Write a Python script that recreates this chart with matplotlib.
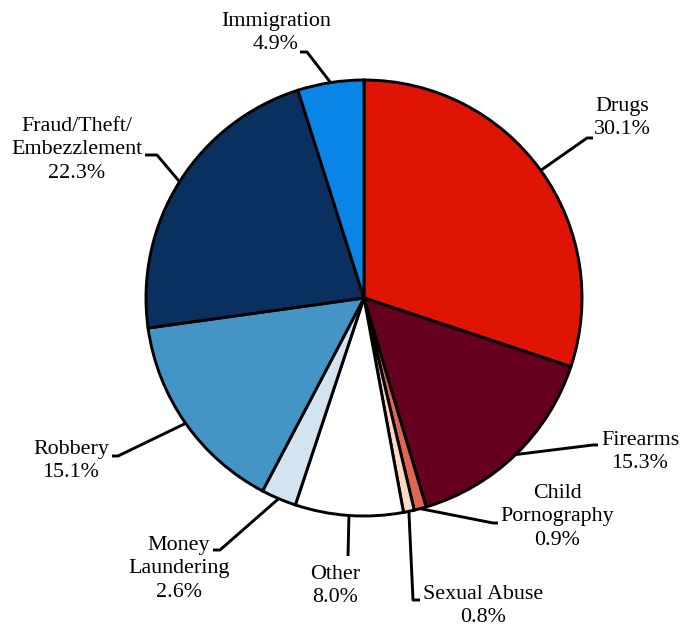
import numpy as np
import matplotlib.pyplot as plt

plt.rcParams['font.family'] = ['Liberation Serif', 'DejaVu Serif']

# data
labels = ["Drugs", "Firearms", "Child\nPornography", "Sexual Abuse", "Other",
          "Money\nLaundering", "Robbery", "Fraud/Theft/\nEmbezzlement", "Immigration"]
shares = [30.1, 15.3, 0.9, 0.8, 8.0, 2.6, 15.1, 22.3, 4.9]
colors = ["#e01405", "#66001f", "#de6652", "#fdd8c3", "#ffffff",
          "#d3e4f0", "#4495c5", "#09305f", "#0985e8"]

W, H = 681, 631
fig = plt.figure(figsize=(W / 100, H / 100), dpi=100)
ax = fig.add_axes([0, 0, 1, 1])

cx, cy, r = 364, H - 298, 218
wedges, _ = ax.pie(shares, colors=colors, startangle=90, counterclock=False,
                   center=(cx, cy), radius=r, frame=True,
                   wedgeprops=dict(edgecolor="black", linewidth=2.1))
ax.set_xlim(0, W)
ax.set_ylim(0, H)
ax.set_aspect("equal")
ax.axis("off")

# leader layout: elbow point, line end, text centre (pixels, top origin)
layout = [
    ((587, 138), (593, 138), (622, 118)),
    ((593, 445), (598, 445), (640, 452)),
    ((493, 523), (498, 523), (557, 517)),
    ((413, 600), (420, 600), (483, 606)),
    ((348, 556), (348, 556), (335, 586)),
    ((220, 550), (213, 550), (179, 569)),
    ((118, 456), (112, 456), (71, 461)),
    ((157, 155), (145, 155), (77, 150)),
    ((307, 52), (300, 52), (276, 33)),
]

for w, lab, val, (elbow, end, txt) in zip(wedges, labels, shares, layout):
    mid = np.deg2rad((w.theta1 + w.theta2) / 2)
    sx, sy = cx + r * np.cos(mid), cy + r * np.sin(mid)
    ax.plot([sx, elbow[0], end[0]], [sy, H - elbow[1], H - end[1]],
            color="black", lw=2.1, solid_capstyle="butt", zorder=1)
    ax.text(txt[0], H - txt[1], f"{lab}\n{val:.1f}%", ha="center", va="center",
            multialignment="center", fontsize=15.8, linespacing=1.32)

fig.savefig("out.png", dpi=100)
